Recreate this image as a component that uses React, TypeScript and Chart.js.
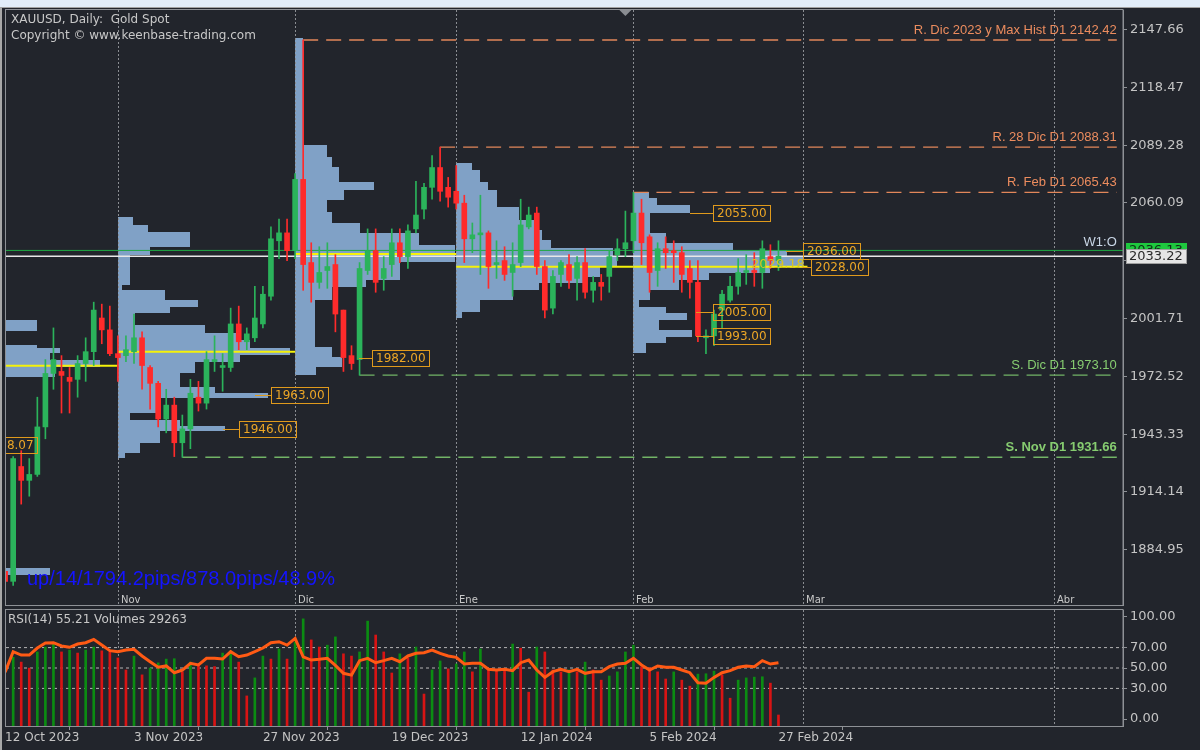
import React, { useEffect, useRef } from "react";
import { Chart, registerables } from "chart.js";

Chart.register(...registerables);
Chart.defaults.font.family = "DejaVu Sans";

// ---------- data ----------
const OPEN = [1874, 1869, 1927, 1920, 1923, 1947, 1974, 1975, 1972, 1971, 1979, 1985, 2002, 1996, 1984, 1983, 1985, 1992, 1977, 1969, 1951, 1958, 1939, 1946, 1962, 1959, 1980, 1977, 1977, 1999, 1990, 1992, 1999, 2013, 2041, 2045, 2036, 2072, 2030, 2020, 2026, 2029, 2006, 1983, 1981, 2026, 2036, 2022, 2029, 2040, 2033, 2047, 2057, 2068, 2078, 2068, 2066, 2060, 2042, 2044, 2045, 2029, 2031, 2025, 2030, 2048, 2055, 2028, 2007, 2024, 2029, 2022, 2030, 2016, 2020, 2023, 2034, 2037, 2041, 2055, 2043, 2026, 2037, 2036, 2035, 2027, 2020, 1992, 1993, 2006, 2011, 2018, 2025, 2026, 2025, 2033, 2031];
const HIGH = [1885, 1932, 1935, 1931, 1962, 1981, 1997, 1983, 1977, 1983, 1992, 2010, 2009, 2008, 1993, 1993, 2004, 1995, 1978, 1970, 1966, 1962, 1953, 1971, 1970, 1985, 1993, 1984, 2007, 2008, 1997, 2018, 2018, 2048, 2052, 2052, 2075, 2142.42, 2040, 2038, 2040, 2034, 2006, 1988, 2030, 2047, 2047, 2033, 2047, 2047, 2049, 2071, 2070, 2084, 2088.31, 2073, 2079, 2064, 2050, 2064, 2046, 2041, 2038, 2040, 2062, 2058, 2058, 2031, 2026, 2031, 2034, 2033, 2037, 2023, 2024, 2036, 2042, 2056, 2065.43, 2062, 2044, 2040, 2043, 2041, 2038, 2031, 2031, 1996, 2006, 2016, 2023, 2032, 2034, 2035, 2041, 2039, 2041];
const LOW = [1868, 1867, 1908, 1912, 1922, 1941, 1966, 1954, 1954, 1962, 1970, 1978, 1989, 1983, 1970, 1980, 1979, 1966, 1956, 1947, 1944, 1932, 1931.66, 1936, 1955, 1956, 1975, 1965, 1975, 1986, 1986, 1990, 1997, 2011, 2032, 2031, 2032, 2016, 2010, 2017, 2017, 1995, 1975, 1976, 1973.1, 2024, 2015, 2016, 2023, 2030, 2027, 2045, 2052, 2062, 2061, 2058, 2057, 2030, 2035, 2024, 2017, 2022, 2021, 2013, 2028, 2047, 2024, 2002, 2004, 2018, 2017, 2011, 2012, 2010, 2011, 2015, 2031, 2033, 2035, 2029, 2015, 2018, 2027, 2020, 2015, 2012, 1990, 1984, 1988, 1997, 2010, 2014, 2019, 2018, 2017, 2027, 2026];
const CLOSE = [1869, 1931, 1920, 1923, 1947, 1974, 1981, 1973, 1970, 1979, 1985, 2006, 1996, 1984, 1982, 1986, 1992, 1978, 1969, 1951, 1958, 1939, 1946, 1964, 1959, 1981, 1981, 1978, 1999, 1990, 1994, 2002, 2014, 2042, 2045, 2036, 2072, 2029, 2020, 2025, 2028, 2004, 1982, 1979, 2027, 2036, 2020, 2027, 2040, 2033, 2046, 2054, 2068, 2078, 2066, 2063, 2060, 2042, 2044, 2045, 2028, 2030, 2024, 2029, 2049, 2054, 2028, 2006, 2023, 2030, 2021, 2030, 2015, 2020, 2018, 2033, 2037, 2040, 2055, 2040, 2025, 2037, 2035, 2035, 2024, 2020, 1993, 1993, 2004, 2014, 2018, 2025, 2026, 2025, 2037, 2031, 2033.22];
const VOLUME = [null, 183000, 170000, 154000, 197000, 210000, 221000, 197000, 202000, 194000, 202000, 210000, 200000, 197000, 181000, 149000, 186000, 136000, 154000, 168000, 178000, 179000, 144000, 170000, 162000, 160000, 158000, 194000, 200000, 170000, 80000, 128000, 186000, 178000, 205000, 178000, 223000, 285000, 229000, 210000, 215000, 237000, 192000, 186000, 197000, 279000, 242000, 197000, 141000, 192000, 181000, 210000, 85000, 149000, 173000, 152000, 165000, 197000, 144000, 205000, 152000, 149000, 147000, 218000, 207000, 90000, 210000, 197000, 149000, 144000, 149000, 144000, 170000, 149000, 122000, 133000, 144000, 197000, 215000, 157000, 155000, 144000, 125000, 144000, 122000, 106000, 138000, 139000, 146000, 136000, 74000, 122000, 128000, 130000, 131000, 114000, 29263];
const RSI = [46, 66, 62.7, 62.7, 69.6, 74.5, 74.8, 71.6, 70.3, 73.5, 74.8, 78.1, 72.5, 67, 66, 67.6, 68.3, 61.8, 56.2, 50.7, 52, 45.4, 48, 54.6, 53, 59.5, 59.5, 58.8, 66, 61, 62.7, 66, 69.6, 74.8, 75.8, 72.5, 79, 61, 57.8, 58.5, 59.5, 52.5, 44.8, 43, 57.2, 59.5, 55.2, 57.2, 59.5, 56.2, 61.8, 64.4, 65, 67.6, 64.4, 61.8, 60.5, 53.9, 54.6, 54.6, 48.7, 48, 48.7, 47.4, 55.2, 57.8, 48, 40.8, 46.4, 48.7, 46.4, 48.7, 44.8, 46.4, 46.4, 51.3, 53.9, 54.6, 59.5, 53, 48, 52, 50.7, 50.7, 48, 45.4, 35.6, 35, 40.8, 45.4, 47.4, 50.7, 52, 51.3, 57.2, 53.9, 55.21];

const PRICE_TICKS = [1884.95, 1914.14, 1943.33, 1972.52, 2001.71, 2030.9, 2060.09, 2089.28, 2118.47, 2147.66];
const RSI_TICKS = [0, 30, 50, 70, 100];
const RSI_LEVELS = [30, 50, 70];

const DATE_TICK_INDEX = [0, 16, 32, 48, 64, 80, 96];
const DATE_TICK_LABELS = ["12 Oct 2023", "3 Nov 2023", "27 Nov 2023", "19 Dec 2023", "12 Jan 2024", "5 Feb 2024", "27 Feb 2024"];
const MONTH_SEP_INDEX = [14, 36, 56, 78, 99, 130.2];
const MONTH_LABELS = ["Nov", "Dic", "Ene", "Feb", "Mar", "Abr"];

// axis ranges
const X_MIN = 0.11;
const X_MAX = 138.77;
const Y_MIN = 1857.05;
const Y_MAX = 2157.56;
const RSI_MIN = -6.86;
const RSI_MAX = 106.86;
const VOL_MAX = 308560;

// support / resistance levels
const LEVEL_PRICES = [2142.42, 2088.31, 2065.43, 1973.1, 1931.66];
const LEVEL_FROM = [37, 54, 78, 44, 22];
const LEVEL_TO = 138;
const LEVEL_LABELS = ["R. Dic 2023 y Max Hist D1 2142.42", "R. 28 Dic D1 2088.31", "R. Feb D1 2065.43", "S. Dic D1 1973.10", "S. Nov D1 1931.66"];
const LEVEL_KIND = ["R", "R", "R", "S", "S"];

// monthly volume profiles: [price high, price low, length in bars]
const PROFILE_OCT: [number, number, number][] = [
  [2001.0, 1995.4, 3.85], [1988.4, 1986.9, 3.85], [1986.9, 1984.3, 6.7], [1984.3, 1980.8, 5.5],
  [1980.8, 1977.2, 11.7], [1977.2, 1972.2, 6.1], [1875.7, 1872.2, 5.5],
];
const PROFILE_NOV: [number, number, number][] = [
  [2053.0, 2049.0, 1.9], [2049.0, 2045.4, 3.7], [2045.4, 2037.9, 8.9], [2037.9, 2033.8, 4.0],
  [2033.8, 2018.7, 1.5], [2018.7, 2016.1, 0.5], [2016.1, 2011.1, 5.8], [2011.1, 2007.6, 9.9],
  [2007.6, 2004.5, 6.5], [2004.5, 1998.5, 2.1], [1998.5, 1994.4, 10.8], [1994.4, 1990.9, 15.2],
  [1990.9, 1986.9, 16.4], [1986.9, 1983.3, 21.4], [1983.3, 1979.8, 15.2], [1979.8, 1974.2, 9.6],
  [1974.2, 1967.1, 7.7], [1967.1, 1964.1, 12.0], [1964.1, 1961.6, 18.6], [1961.6, 1954.0, 5.2],
  [1954.0, 1950.5, 1.5], [1950.5, 1947.4, 7.7], [1947.4, 1944.9, 13.3], [1944.9, 1938.9, 5.2],
  [1938.9, 1933.8, 2.7], [1933.8, 1931.3, 0.9],
];
const PROFILE_DIC: [number, number, number][] = [
  [2143.4, 2089.4, 1.0], [2089.4, 2083.3, 3.9], [2083.3, 2078.3, 4.6], [2078.3, 2070.7, 5.5],
  [2070.7, 2066.7, 9.8], [2066.7, 2061.6, 6.1], [2061.6, 2055.5, 3.9], [2055.5, 2050.0, 4.6],
  [2050.0, 2044.9, 8.0], [2044.9, 2038.9, 15.4], [2038.9, 2030.3, 19.8], [2030.3, 2021.2, 13.0],
  [2021.2, 2017.7, 8.8], [2017.7, 2011.1, 4.6], [2011.1, 1987.4, 2.5], [1987.4, 1982.3, 4.6],
  [1982.3, 1977.3, 5.8], [1977.3, 1973.2, 2.6],
];
const PROFILE_ENE: [number, number, number][] = [
  [2080.3, 2076.8, 1.9], [2076.8, 2070.7, 2.9], [2070.7, 2066.7, 3.9], [2066.7, 2058.1, 5.0],
  [2058.1, 2051.5, 7.8], [2051.5, 2046.5, 9.9], [2046.5, 2041.4, 10.7], [2041.4, 2037.4, 11.8],
  [2037.4, 2032.8, 19.4], [2032.8, 2027.8, 19.9], [2027.8, 2022.7, 17.8], [2022.7, 2019.7, 15.7],
  [2019.7, 2016.2, 10.3], [2016.2, 2011.1, 7.0], [2011.1, 2005.0, 2.9], [2005.0, 2002.0, 0.7],
];
const PROFILE_FEB: [number, number, number][] = [
  [2065.6, 2062.6, 1.9], [2062.6, 2059.1, 2.9], [2059.1, 2055.0, 7.0], [2055.0, 2044.9, 2.0],
  [2044.9, 2039.9, 4.1], [2039.9, 2036.4, 12.3], [2036.4, 2032.8, 19.0], [2032.8, 2027.8, 21.0],
  [2027.8, 2024.7, 16.9], [2024.7, 2021.2, 9.4], [2021.2, 2016.2, 5.7], [2016.2, 2011.1, 2.0],
  [2011.1, 2007.6, 0.7], [2007.6, 2004.5, 4.1], [2004.5, 2001.0, 6.6], [2001.0, 1995.9, 3.2],
  [1995.9, 1992.4, 7.3], [1992.4, 1989.4, 4.1], [1989.4, 1984.3, 1.6],
];
const PROFILES = [PROFILE_OCT, PROFILE_NOV, PROFILE_DIC, PROFILE_ENE, PROFILE_FEB];
const PROFILE_START = [X_MIN, 14, 36, 56, 78];

// points of control
const POC_PRICE = [1977.9, 1985.0, 2034.3, 2027.9, 2027.9];
const POC_FROM = [X_MIN, 14, 36, 56, 78];
const POC_TO = [14, 36, 56, 78, 99.6];

// boxed price labels
const BOX_PRICES = [1982, 1963, 1946, 1938.07, 2055, 2036, 2028, 2005, 1993];
const BOX_AT = [45.6, 33.0, 29.0, -3.1, 87.9, 99.0, 100.0, 87.9, 87.9];
const BOX_FROM = [43.9, 31.0, 27.0, -3.1, 85.0, 96.9, 98.6, 85.8, 85.8];

const CURRENT_PRICE = 2033.22;
const WEEK_OPEN = 2036.13;
const EXTRA_LEVEL = 2029.18;
const EXTRA_LEVEL_AT = 92.6;
const SHIFT_MARK_AT = 77;

// ---------- styles ----------
const BG = "#22252c";
const AXIS_TEXT = "#c4c4c4";
const FRAME = "#8e9196";
const UP = "#2bb35b";
const DOWN = "#ff2b2b";
const PROFILE_COLOR = "#80a1c6";
const R_TEXT = "#ec8c5e";
const R_LINE = "#e2875a";
const S_TEXT = "#86cc70";
const S_LINE = "#72b466";
const BOX_COLOR = "#e09a1c";

function dottedV(ctx: CanvasRenderingContext2D, x: number, y0: number, y1: number) {
  ctx.beginPath();
  ctx.moveTo(x, y0);
  ctx.lineTo(x, y1);
  ctx.stroke();
}

const mainPlugin = {
  id: "mainDecor",
  beforeDatasetsDraw(chart: any) {
    const { ctx, chartArea: a, scales } = chart;
    const xs = scales.x, ys = scales.y;
    ctx.save();
    ctx.beginPath();
    ctx.rect(a.left, a.top, a.right - a.left, a.bottom - a.top);
    ctx.clip();
    ctx.fillStyle = PROFILE_COLOR;
    PROFILES.forEach((rows, k) => {
      const start = PROFILE_START[k];
      rows.forEach(([hi, lo, len]) => {
        const x0 = Math.round(xs.getPixelForValue(start));
        const x1 = Math.round(xs.getPixelForValue(start + len));
        const y0 = Math.round(ys.getPixelForValue(hi));
        const y1 = Math.round(ys.getPixelForValue(lo));
        ctx.fillRect(x0, y0, Math.max(1, x1 - x0), Math.max(1, y1 - y0));
      });
    });
    ctx.strokeStyle = "#8a8d92";
    ctx.lineWidth = 1;
    ctx.setLineDash([2, 2]);
    MONTH_SEP_INDEX.forEach((v) => {
      const x = Math.round(xs.getPixelForValue(v)) + 0.5;
      dottedV(ctx, x, a.top, a.bottom);
    });
    ctx.restore();
  },
  afterDraw(chart: any) {
    const { ctx, chartArea: a, scales } = chart;
    const xs = scales.x, ys = scales.y;
    ctx.save();
    // frame
    ctx.strokeStyle = FRAME;
    ctx.lineWidth = 1;
    ctx.strokeRect(5.5, a.top - 0.5, a.right - 5.5, a.bottom - a.top + 1);

    ctx.save();
    ctx.beginPath();
    ctx.rect(a.left, a.top, a.right - a.left, a.bottom - a.top);
    ctx.clip();

    // header
    ctx.fillStyle = "#c8c8c8";
    ctx.font = '12px "DejaVu Sans"';
    ctx.textBaseline = "middle";
    ctx.textAlign = "left";
    ctx.fillText("XAUUSD, Daily:  Gold Spot", 11, 20);
    ctx.fillText("Copyright \u00A9 www.keenbase-trading.com", 11, 36);

    // shift marker
    const sx = xs.getPixelForValue(SHIFT_MARK_AT);
    ctx.fillStyle = "#8a8d92";
    ctx.beginPath();
    ctx.moveTo(sx - 6, a.top);
    ctx.lineTo(sx + 6, a.top);
    ctx.lineTo(sx, a.top + 6);
    ctx.closePath();
    ctx.fill();

    // level labels
    ctx.textAlign = "right";
    ctx.textBaseline = "alphabetic";
    LEVEL_PRICES.forEach((p, i) => {
      const y = ys.getPixelForValue(p);
      const isS = LEVEL_KIND[i] === "S";
      ctx.fillStyle = isS ? S_TEXT : R_TEXT;
      ctx.font = (i === 4 ? "bold " : "") + '13px "Liberation Sans"';
      ctx.fillText(LEVEL_LABELS[i], xs.getPixelForValue(LEVEL_TO), y - 6);
    });
    // W1:O
    ctx.fillStyle = "#c9d6e6";
    ctx.font = '13px "Liberation Sans"';
    ctx.fillText("W1:O", xs.getPixelForValue(LEVEL_TO), ys.getPixelForValue(WEEK_OPEN) - 4);

    // boxed labels
    ctx.font = '12px "DejaVu Sans"';
    ctx.textAlign = "left";
    ctx.textBaseline = "middle";
    BOX_PRICES.forEach((p, i) => {
      const txt = p.toFixed(2);
      const w = Math.ceil(ctx.measureText(txt).width) + 7;
      const y = Math.round(ys.getPixelForValue(p));
      const xf = Math.round(xs.getPixelForValue(BOX_FROM[i]));
      let xl = Math.round(xs.getPixelForValue(BOX_AT[i]));
      if (BOX_AT[i] < 0) xl = Math.round(xs.getPixelForValue(BOX_AT[i]) + 57 - w);
      ctx.strokeStyle = BOX_COLOR;
      ctx.lineWidth = 1;
      if (xf < xl) {
        ctx.beginPath();
        ctx.moveTo(xf, y + 0.5);
        ctx.lineTo(xl, y + 0.5);
        ctx.stroke();
      }
      ctx.strokeRect(xl + 0.5, y - 7.5, w, 16);
      ctx.fillStyle = "#eca626";
      ctx.fillText(txt, xl + 4, y + 1);
    });
    // extra yellow text
    ctx.fillStyle = "#d9c424";
    ctx.font = '13px "DejaVu Sans"';
    ctx.fillText(EXTRA_LEVEL.toFixed(2), xs.getPixelForValue(EXTRA_LEVEL_AT), ys.getPixelForValue(EXTRA_LEVEL));

    // month labels
    ctx.fillStyle = "#c8c8c8";
    ctx.font = '10px "DejaVu Sans"';
    MONTH_SEP_INDEX.forEach((v, i) => {
      ctx.fillText(MONTH_LABELS[i], Math.round(xs.getPixelForValue(v)) + 3, a.bottom - 5);
    });

    // statistics text
    ctx.fillStyle = "#1414ff";
    ctx.font = '20px "Liberation Sans"';
    ctx.fillText("up/14/1794.2pips/878.0pips/48.9%", 27, 579);
    ctx.restore();

    // right axis price boxes
    ctx.font = '13px "DejaVu Sans"';
    ctx.textAlign = "left";
    ctx.textBaseline = "middle";
    const yg = Math.round(ys.getPixelForValue(WEEK_OPEN));
    ctx.fillStyle = "#1ec83e";
    ctx.fillRect(a.right + 3, yg - 7, 61, 15);
    ctx.fillStyle = "#0d3015";
    ctx.fillText(WEEK_OPEN.toFixed(2), a.right + 6, yg + 1);
    const yw = Math.round(ys.getPixelForValue(CURRENT_PRICE));
    ctx.fillStyle = "#e6e6e6";
    ctx.fillRect(a.right + 3, yw - 7, 61, 15);
    ctx.strokeStyle = "#a0a0a0";
    ctx.strokeRect(a.right + 3.5, yw - 6.5, 60, 14);
    ctx.fillStyle = "#2a2a2a";
    ctx.fillText(CURRENT_PRICE.toFixed(2), a.right + 6, yw + 1);
    ctx.restore();
  },
};

const rsiPlugin = {
  id: "rsiDecor",
  beforeDatasetsDraw(chart: any) {
    const { ctx, chartArea: a, scales } = chart;
    const xs = scales.x;
    ctx.save();
    ctx.strokeStyle = "#8a8d92";
    ctx.lineWidth = 1;
    ctx.setLineDash([2, 2]);
    MONTH_SEP_INDEX.forEach((v) => {
      const x = Math.round(xs.getPixelForValue(v)) + 0.5;
      dottedV(ctx, x, a.top, a.bottom);
    });
    ctx.restore();
  },
  afterDraw(chart: any) {
    const { ctx, chartArea: a } = chart;
    ctx.save();
    ctx.strokeStyle = FRAME;
    ctx.lineWidth = 1;
    ctx.strokeRect(5.5, a.top - 0.5, a.right - 5.5, a.bottom - a.top + 1);
    ctx.fillStyle = "#c8c8c8";
    ctx.font = '12px "DejaVu Sans"';
    ctx.textBaseline = "middle";
    ctx.fillText(`RSI(14) ${RSI[RSI.length - 1].toFixed(2)} Volumes ${VOLUME[VOLUME.length - 1]}`, 8, 12);
    ctx.restore();
  },
};

function hLine(from: number, to: number, y: number, color: string, width: number, dash: number[], order: number) {
  return {
    type: "line" as const,
    data: [{ x: from, y }, { x: to, y }],
    borderColor: color,
    borderWidth: width,
    borderDash: dash,
    pointRadius: 0,
    pointHoverRadius: 0,
    order,
  };
}

function mainConfig(): any {
  const candleColors = CLOSE.map((c, i) => (c >= OPEN[i] ? UP : DOWN));
  const datasets: any[] = [
    {
      type: "bar",
      data: OPEN.map((o, i) => ({ x: i, y: [o, CLOSE[i]] })),
      backgroundColor: candleColors,
      barThickness: 5,
      minBarLength: 1,
      grouped: false,
      borderWidth: 0,
      order: 0,
    },
    {
      type: "bar",
      data: LOW.map((l, i) => ({ x: i, y: [l, HIGH[i]] })),
      backgroundColor: candleColors,
      barThickness: 1,
      grouped: false,
      borderWidth: 0,
      order: 1,
    },
  ];
  POC_PRICE.forEach((p, i) => datasets.push(hLine(POC_FROM[i], POC_TO[i], p, "#f5f20a", 2, [], 3)));
  datasets.push(hLine(X_MIN, X_MAX, WEEK_OPEN, "#1fa843", 1, [], 2));
  datasets.push(hLine(X_MIN, X_MAX, CURRENT_PRICE, "#e8e8e8", 1.5, [], 2));
  LEVEL_PRICES.forEach((p, i) =>
    datasets.push(hLine(LEVEL_FROM[i], LEVEL_TO, p, LEVEL_KIND[i] === "S" ? S_LINE : R_LINE, 1.3, [15, 8], 2))
  );
  return {
    type: "bar",
    data: { datasets },
    plugins: [mainPlugin],
    options: {
      responsive: false,
      animation: false,
      events: [],
      layout: { padding: { top: 10, left: 6, right: 0, bottom: 3 } },
      plugins: { legend: { display: false }, tooltip: { enabled: false } },
      scales: {
        x: { type: "linear", min: X_MIN, max: X_MAX, offset: false, display: false },
        y: {
          type: "linear",
          position: "right",
          min: Y_MIN,
          max: Y_MAX,
          afterBuildTicks: (s: any) => { s.ticks = PRICE_TICKS.map((v) => ({ value: v })); },
          afterFit: (s: any) => { s.width = 77; s.paddingTop = 0; s.paddingBottom = 0; },
          ticks: { color: AXIS_TEXT, font: { size: 13 }, padding: 3, autoSkip: false, callback: (v: number) => Number(v).toFixed(2) },
          grid: { drawOnChartArea: false, drawTicks: true, tickLength: 4, tickColor: FRAME },
          border: { color: FRAME },
        },
      },
    },
  };
}

function rsiConfig(): any {
  const volColors = VOLUME.map((v, i) => (i > 0 && (v as number) > (VOLUME[i - 1] ?? 0) ? "#0b8c12" : "#d81414"));
  const datasets: any[] = [
    {
      type: "line",
      data: RSI.map((v, i) => ({ x: i, y: v })),
      yAxisID: "yr",
      borderColor: "#ff5a14",
      borderWidth: 3,
      pointRadius: 0,
      tension: 0,
      order: 0,
    },
    {
      type: "bar",
      data: VOLUME.map((v, i) => ({ x: i, y: v })),
      yAxisID: "yv",
      backgroundColor: volColors,
      barThickness: 2,
      grouped: false,
      borderWidth: 0,
      order: 1,
    },
  ];
  RSI_LEVELS.forEach((lv) => {
    const d: any = hLine(X_MIN, X_MAX, lv, "#b4b4b4", 1, [3, 3], 2);
    d.yAxisID = "yr";
    datasets.push(d);
  });
  return {
    type: "bar",
    data: { datasets },
    plugins: [rsiPlugin],
    options: {
      responsive: false,
      animation: false,
      events: [],
      layout: { padding: { top: 2, left: 6, right: 0, bottom: 0 } },
      plugins: { legend: { display: false }, tooltip: { enabled: false } },
      scales: {
        x: {
          type: "linear",
          min: X_MIN,
          max: X_MAX,
          offset: false,
          afterBuildTicks: (s: any) => { s.ticks = DATE_TICK_INDEX.map((v) => ({ value: v })); },
          afterFit: (s: any) => { s.height = 24; s.paddingLeft = 0; s.paddingRight = 0; },
          ticks: {
            color: AXIS_TEXT,
            font: { size: 12 },
            padding: 1,
            align: "start",
            maxRotation: 0,
            minRotation: 0,
            autoSkip: false,
            callback: (v: number) => DATE_TICK_LABELS[DATE_TICK_INDEX.indexOf(Number(v))] ?? "",
          },
          grid: { drawOnChartArea: false, drawTicks: true, tickLength: 4, tickColor: FRAME },
          border: { color: FRAME },
        },
        yr: {
          type: "linear",
          position: "right",
          min: RSI_MIN,
          max: RSI_MAX,
          afterBuildTicks: (s: any) => { s.ticks = RSI_TICKS.map((v) => ({ value: v })); },
          afterFit: (s: any) => { s.width = 77; s.paddingTop = 0; s.paddingBottom = 0; },
          ticks: { color: AXIS_TEXT, font: { size: 13 }, padding: 3, autoSkip: false, callback: (v: number) => Number(v).toFixed(2) },
          grid: { drawOnChartArea: false, drawTicks: true, tickLength: 4, tickColor: FRAME },
          border: { color: FRAME },
        },
        yv: { type: "linear", display: false, min: 0, max: VOL_MAX },
      },
    },
  };
}

export default function App() {
  const mainRef = useRef<HTMLCanvasElement>(null);
  const rsiRef = useRef<HTMLCanvasElement>(null);
  useEffect(() => {
    const c1 = new Chart(mainRef.current as HTMLCanvasElement, mainConfig());
    const c2 = new Chart(rsiRef.current as HTMLCanvasElement, rsiConfig());
    return () => {
      c1.destroy();
      c2.destroy();
    };
  }, []);
  return (
    <div style={{ position: "fixed", left: 0, top: 0, width: 1200, height: 750, background: BG, overflow: "hidden" }}>
      <div style={{ position: "absolute", left: 0, top: 0, width: 1200, height: 7, background: "#e2edf9" }} />
      <div style={{ position: "absolute", left: 0, top: 7, width: 1200, height: 1, background: "#a3a3a3" }} />
      <div style={{ position: "absolute", left: 0, top: 8, width: 2, height: 742, background: "#a8a8a8" }} />
      <canvas ref={mainRef} width={1200} height={608} style={{ position: "absolute", left: 0, top: 0 }} />
      <canvas ref={rsiRef} width={1200} height={142} style={{ position: "absolute", left: 0, top: 608 }} />
    </div>
  );
}
